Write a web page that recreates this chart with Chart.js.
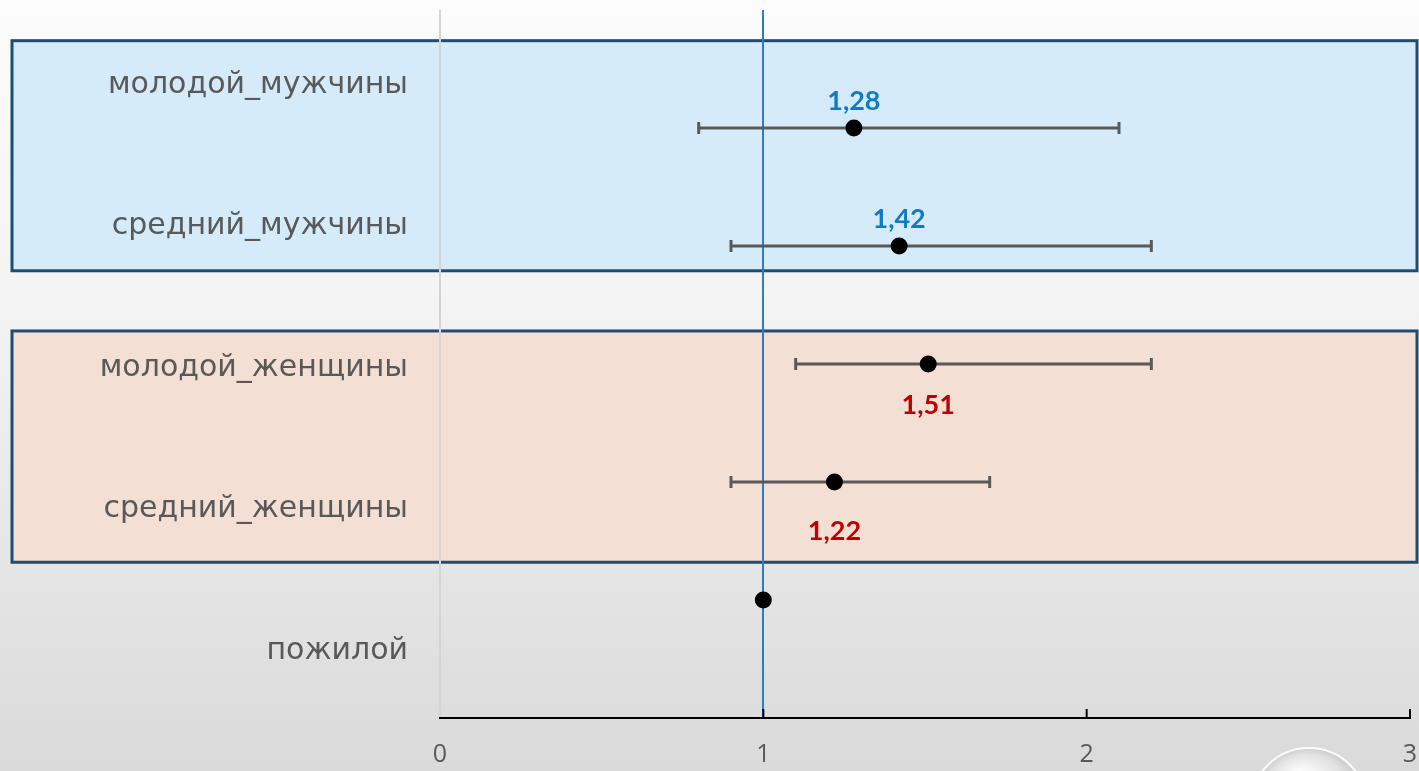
<!DOCTYPE html>
<html>
<head>
<meta charset="utf-8">
<script src="https://cdn.jsdelivr.net/npm/chart.js@4.4.1/dist/chart.umd.min.js"></script>
<style>
  html, body { margin: 0; padding: 0; width: 1419px; height: 771px; overflow: hidden; }
  body { background: linear-gradient(180deg, #fcfcfc 0%, #f3f3f3 40%, #dadada 100%); }
  .forest { position: relative; width: 1419px; height: 771px; }
</style>
</head>
<body>
<div class="forest"><canvas id="forest-plot"></canvas></div>
<script>
const groups = ['молодой_мужчины', 'средний_мужчины', 'молодой_женщины', 'средний_женщины', 'пожилой'];
const oddsRatio = [1.28, 1.42, 1.51, 1.22, 1];
const ciLow = [0.8, 0.9, 1.1, 0.9, null];
const ciHigh = [2.1, 2.2, 2.2, 1.7, null];
const valueLabels = ['1,28', '1,42', '1,51', '1,22', null];
const xTicks = [0, 1, 2, 3];

(function () {
  const canvas = document.getElementById('forest-plot');
  const rowOf = (i) => i + 1;

  // group boxes behind the rows (in hidden row-axis units)
  const boxes = [
    { from: 0.26, to: 2.21, fill: '#d6ebfa' },
    { from: 2.72, to: 4.68, fill: '#f4dfd5' },
  ];

  const labelStyle = [
    { color: '#0f7bc7', dy: -27 },
    { color: '#0f7bc7', dy: -27 },
    { color: '#c00000', dy: 41 },
    { color: '#c00000', dy: 49 },
    null,
  ];

  const noPad = (s) => {
    s.paddingTop = 0;
    s.paddingBottom = 0;
    s.paddingLeft = 0;
    s.paddingRight = 0;
  };

  const boxPlugin = {
    id: 'groupBoxes',
    beforeDraw(chart) {
      const { ctx } = chart;
      const y = chart.scales.y;
      boxes.forEach((b) => {
        const top = y.getPixelForValue(b.from);
        const bottom = y.getPixelForValue(b.to);
        ctx.save();
        ctx.fillStyle = b.fill;
        ctx.fillRect(12, top, chart.width - 14, bottom - top);
        ctx.strokeStyle = '#1d4d70';
        ctx.lineWidth = 3;
        ctx.strokeRect(12, top, chart.width - 14, bottom - top);
        ctx.restore();
      });
    },
  };

  const labelPlugin = {
    id: 'valueLabels',
    afterDatasetsDraw(chart) {
      const { ctx } = chart;
      const meta = chart.getDatasetMeta(0);
      ctx.save();
      ctx.font = 'bold 27px Lato';
      ctx.textAlign = 'center';
      ctx.textBaseline = 'middle';
      meta.data.forEach((pt, i) => {
        const st = labelStyle[i];
        if (!valueLabels[i] || !st) return;
        ctx.fillStyle = st.color;
        ctx.fillText(valueLabels[i], pt.x, pt.y + st.dy);
      });
      ctx.restore();
    },
  };

  const tickPlugin = {
    id: 'upTicks',
    afterDraw(chart) {
      const { ctx } = chart;
      const x = chart.scales.x;
      const bottom = chart.chartArea.bottom;
      ctx.save();
      xTicks.forEach((v) => {
        if (v === 0) return;
        const px = x.getPixelForValue(v);
        ctx.strokeStyle = '#000';
        ctx.lineWidth = 2;
        ctx.beginPath();
        ctx.moveTo(px, bottom);
        ctx.lineTo(px, bottom - 9);
        ctx.stroke();
      });
      // glossy bubble in the corner
      const g = ctx.createRadialGradient(1300, 775, 5, 1309, 805, 58);
      g.addColorStop(0, 'rgba(255,255,255,0.9)');
      g.addColorStop(0.7, 'rgba(225,225,225,0.9)');
      g.addColorStop(1, 'rgba(200,200,200,0.9)');
      ctx.fillStyle = g;
      ctx.beginPath();
      ctx.arc(1309, 806, 58, 0, Math.PI * 2);
      ctx.fill();
      ctx.strokeStyle = 'rgba(255,255,255,0.9)';
      ctx.lineWidth = 2;
      ctx.stroke();
      ctx.restore();
    },
  };

  const pointData = oddsRatio.map((v, i) => ({ x: v, y: rowOf(i) }));

  const ciSets = [];
  groups.forEach((g, i) => {
    if (ciLow[i] == null) return;
    ciSets.push({
      label: g + ' CI',
      data: [{ x: ciLow[i], y: rowOf(i) }, { x: ciHigh[i], y: rowOf(i) }],
      showLine: true,
      borderColor: '#595959',
      borderWidth: 3,
      pointStyle: 'line',
      rotation: 90,
      pointRadius: 6,
      pointBorderWidth: 3,
      pointBorderColor: '#595959',
      yAxisID: 'y',
    });
  });

  new Chart(canvas, {
    type: 'scatter',
    data: {
      datasets: [
        {
          label: 'OR',
          data: pointData,
          backgroundColor: '#000',
          borderWidth: 0,
          pointRadius: 8.5,
          yAxisID: 'y',
        },
        ...ciSets,
      ],
    },
    options: {
      responsive: true,
      maintainAspectRatio: false,
      animation: false,
      layout: { padding: { top: 10, right: 9, left: 0, bottom: 0 } },
      plugins: {
        legend: { display: false },
        tooltip: { enabled: false },
      },
      scales: {
        x: {
          type: 'linear',
          position: 'bottom',
          min: 0,
          max: 3,
          afterBuildTicks: (s) => { s.ticks = xTicks.map((v) => ({ value: v })); },
          afterFit: (s) => { s.height = 53; noPad(s); },
          border: { color: '#000', width: 2 },
          grid: {
            drawTicks: false,
            color: (c) => (c.tick && c.tick.value === 1 ? '#2e7bbf' : c.tick && c.tick.value === 0 ? '#d4d4d4' : 'rgba(0,0,0,0)'),
            lineWidth: 2,
          },
          ticks: {
            color: '#595959',
            padding: 22,
            font: { family: 'Open Sans', size: 25 },
          },
        },
        y: {
          type: 'linear',
          min: 0,
          max: 6,
          reverse: true,
          display: false,
        },
        groupsAxis: {
          type: 'category',
          labels: groups,
          position: 'left',
          offset: true,
          afterFit: (s) => { s.width = 440; noPad(s); },
          border: { display: false },
          grid: { display: false, drawTicks: false },
          ticks: {
            color: '#595959',
            padding: 32,
            labelOffset: 4,
            font: { family: 'DejaVu Sans', size: 30 },
          },
        },
      },
    },
    plugins: [boxPlugin, labelPlugin, tickPlugin],
  });
})();
</script>
</body>
</html>
